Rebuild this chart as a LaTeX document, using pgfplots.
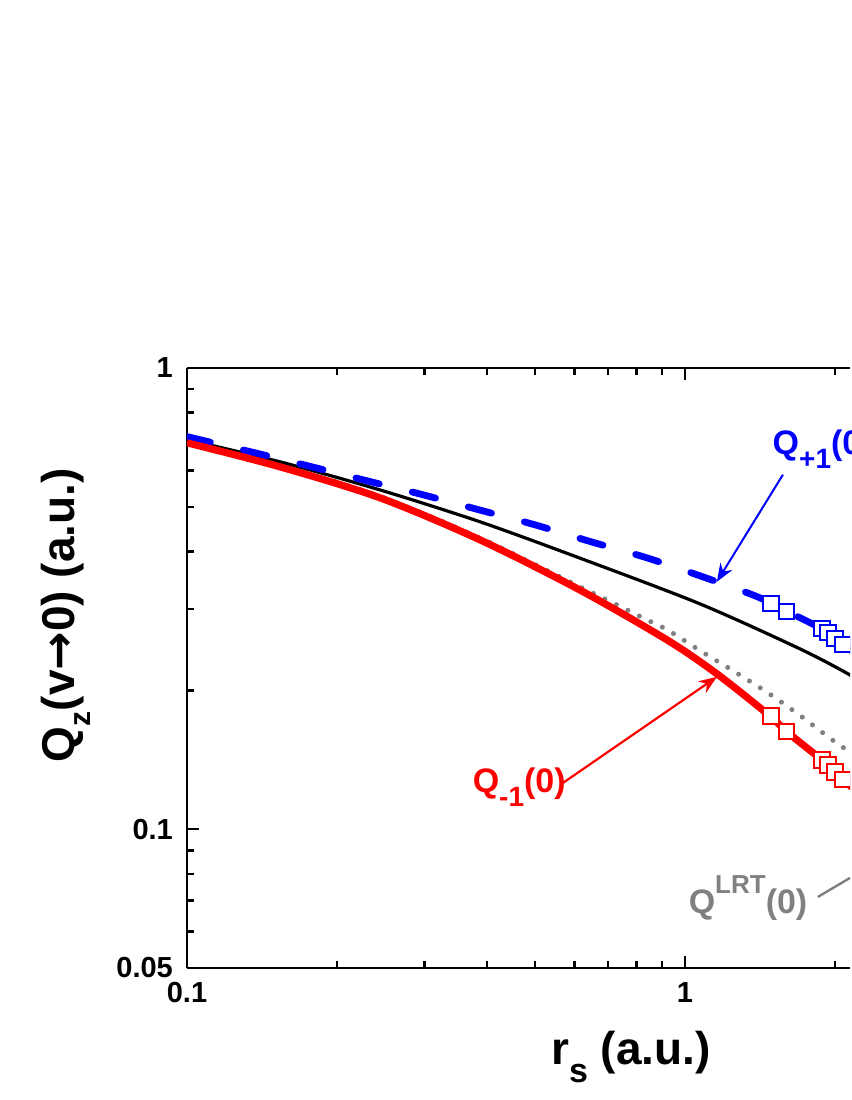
\documentclass[border=0pt]{standalone}
\usepackage{fontspec}
\setmainfont{Liberation Sans}
\newfontfamily\dejavu{DejaVu Sans}
\usepackage{pgfplots}
\usepackage{pgfplotstable}
\pgfplotsset{compat=1.18}
\usetikzlibrary{arrows.meta}

% Q_{+1}(0), dashed curve
\pgfplotstableread{
x y
0.1 0.710
0.1369 0.6548
0.1782 0.6105
0.2298 0.5694
0.2978 0.531
0.3858 0.4926
0.4998 0.457
0.6476 0.420
0.8388 0.3876
1.0867 0.3525
1.3694 0.322
1.4885 0.309
1.602 0.297
1.884 0.272
1.937 0.2665
2.0013 0.2595
2.0762 0.2515
2.3 0.232
}\qplus

% Q_{-1}(0), thick red curve
\pgfplotstableread{
x y
0.1 0.6884
0.1537 0.6105
0.2441 0.523
0.3876 0.424
0.6155 0.330
0.9202 0.2573
1.1596 0.2171
1.4817 0.176
1.602 0.1626
1.884 0.1413
2.0013 0.1331
2.0762 0.1279
2.3 0.117
}\qminus

% black solid curve
\pgfplotstableread{
x y
0.1 0.699
0.1537 0.626
0.2441 0.544
0.3876 0.464
0.6155 0.387
1.0718 0.308
1.7018 0.246
2.145 0.216
2.3 0.205
}\qblack

% Q^{LRT}(0), dotted
\pgfplotstableread{
x y
0.1 0.692
0.1537 0.614
0.2441 0.527
0.3876 0.428
0.6155 0.3353
0.7167 0.3095
0.8388 0.2844
0.9245 0.2700
1.0817 0.2424
1.2599 0.2193
1.4679 0.1975
1.7176 0.1752
2.0013 0.1546
2.3 0.140
}\qlrt

% square markers
\pgfplotstableread{
x yp ym
1.4885 0.309 0.176
1.602 0.297 0.1626
1.884 0.272 0.1413
1.937 0.2665 0.1378
2.0013 0.2595 0.1331
2.0762 0.2515 0.1279
}\qmarks

\newcommand{\lab}{\bfseries\fontsize{8.5}{10}\selectfont}
\newcommand{\lsub}[1]{\raisebox{-3.5pt}{\fontsize{7}{8}\selectfont #1}}

\begin{document}
\begin{tikzpicture}
\path (-46.75pt,-33pt) rectangle (165.75pt,242pt);
\begin{axis}[
  at={(0,0)}, anchor=south west,
  scale only axis, width=165.75pt, height=150pt,
  xmode=log, ymode=log,
  xmin=0.1, xmax=2.145, ymin=0.05, ymax=1,
  axis x line=box, axis y line=left,
  axis line style={-, line width=0.65pt},
  xtick={0.1,1,10}, xticklabels={0.1,1,10},
  minor xtick={0.2,0.3,0.4,0.5,0.6,0.7,0.8,0.9,2},
  ytick={0.05,0.1,1}, yticklabels={0.05,0.1,1},
  minor ytick={0.06,0.07,0.08,0.09,0.2,0.3,0.4,0.5,0.6,0.7,0.8,0.9},
  tick align=inside,
  major tick length=3pt, minor tick length=1.75pt,
  every tick/.style={black, line width=0.65pt},
  tick label style={font=\bfseries\fontsize{7.25}{8}\selectfont},
  xlabel={r\raisebox{-4.5pt}{\fontsize{8.5}{9}\selectfont s} (a.u.)},
  ylabel={Q\raisebox{-4pt}{\fontsize{7.5}{8}\selectfont z}(v{\dejavu\bfseries →}0) (a.u.)},
  label style={font=\bfseries\fontsize{11.5}{13}\selectfont},
  xlabel style={at={(axis description cs:0.6697,-0.148)}, anchor=center},
  ylabel style={at={(axis description cs:-0.1825,0.588)}, anchor=center},
  clip mode=individual, clip marker paths=true,
]
\addplot[gray, smooth, line width=1.25pt, line cap=round, dash pattern=on 0pt off 3.2pt] table[x=x,y=y] {\qlrt};
\addplot[black, smooth, line width=0.8pt] table[x=x,y=y] {\qblack};
\addplot[blue, smooth, line width=1.7pt, line cap=round, dash pattern=on 6pt off 8.5pt] table[x=x,y=y] {\qplus};
\addplot[red, smooth, line width=1.8pt] table[x=x,y=y] {\qminus};
\addplot[blue, only marks, mark=square*, mark size=1.9pt, mark options={solid, fill=white, line width=0.5pt}] table[x=x,y=yp] {\qmarks};
\addplot[red, only marks, mark=square*, mark size=1.9pt, mark options={solid, fill=white, line width=0.5pt}] table[x=x,y=ym] {\qmarks};

\draw[blue, line width=0.5pt, -{Stealth[length=4.5pt,width=3.5pt]}] (axis cs:1.573,0.587) -- (axis cs:1.159,0.344);
\draw[red, line width=0.55pt, -{Stealth[length=4.5pt,width=3.5pt]}] (axis cs:0.569,0.126) -- (axis cs:1.159,0.2139);
\draw[gray, line width=0.6pt] (axis cs:1.849,0.0713) -- (axis cs:2.145,0.0784);

\node[overlay, blue, anchor=base west, inner sep=0pt, font=\lab] at (axis cs:1.495,0.648) {Q\lsub{+1}(0)};
\node[red, anchor=base west, inner sep=0pt, font=\lab] at (axis cs:0.3735,0.1199) {Q\lsub{-1}(0)};
\node[gray, anchor=base west, inner sep=0pt, font=\lab] at (axis cs:1.014,0.0658) {Q\raisebox{5pt}{\fontsize{6.5}{7}\selectfont LRT}(0)};
\end{axis}
\end{tikzpicture}
\end{document}
